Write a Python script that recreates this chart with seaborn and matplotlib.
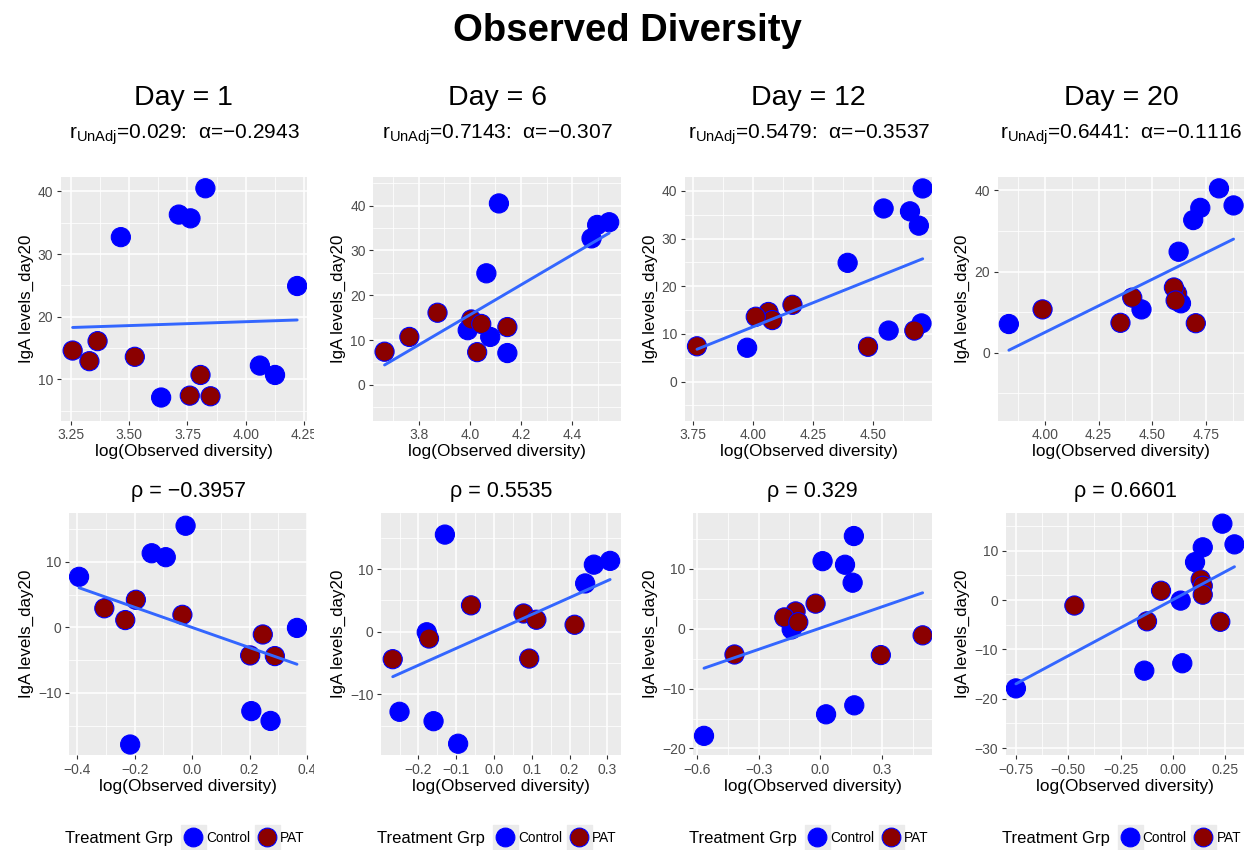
import numpy as np
import pandas as pd
import matplotlib
matplotlib.use("Agg")
import matplotlib.pyplot as plt
import seaborn as sns
from matplotlib.lines import Line2D
from matplotlib.legend_handler import HandlerTuple
from matplotlib.transforms import Bbox, TransformedBbox

# ---------------- data ----------------
groups = ["Control", "PAT"]
col_titles = ["Day = 1", "Day = 6", "Day = 12", "Day = 20"]
r_unadj = ["0.029", "0.7143", "0.5479", "0.6441"]
alpha_vals = ["\u22120.2943", "\u22120.307", "\u22120.3537", "\u22120.1116"]
rho_vals = ["\u22120.3957", "0.5535", "0.329", "0.6601"]

# top row: raw IgA vs log(observed diversity)
iga_control = [40.5, 36.3, 35.7, 32.7, 24.9, 12.2, 10.7, 7.1]
iga_pat = [14.6, 16.1, 12.9, 13.6, 10.7, 7.4, 7.3]

logdiv_control_d1 = [3.827, 3.713, 3.763, 3.464, 4.221, 4.061, 4.126, 3.637]
logdiv_pat_d1 = [3.257, 3.364, 3.329, 3.524, 3.806, 3.760, 3.849]
logdiv_control_d6 = [4.114, 4.545, 4.498, 4.476, 4.065, 3.992, 4.080, 4.147]
logdiv_pat_d6 = [4.006, 3.874, 4.147, 4.045, 3.764, 3.667, 4.029]
logdiv_control_d12 = [4.706, 4.543, 4.653, 4.690, 4.393, 4.701, 4.564, 3.974]
logdiv_pat_d12 = [4.063, 4.163, 4.079, 4.010, 4.671, 3.765, 4.478]
logdiv_control_d20 = [4.811, 4.879, 4.724, 4.691, 4.623, 4.634, 4.450, 3.832]
logdiv_pat_d20 = [4.616, 4.601, 4.609, 4.407, 3.989, 4.352, 4.703]

# bottom row: adjusted values
adj_iga_control = [15.5, 11.3, 10.7, 7.7, -0.1, -12.8, -14.3, -17.9]
adj_iga_pat = [4.2, 2.9, 1.9, 1.1, -1.1, -4.3, -4.4]

adj_div_control_d1 = [-0.023, -0.141, -0.092, -0.394, 0.365, 0.206, 0.273, -0.216]
adj_div_pat_d1 = [-0.196, -0.306, -0.034, -0.233, 0.246, 0.202, 0.288]
adj_div_control_d6 = [-0.130, 0.307, 0.264, 0.241, -0.178, -0.250, -0.160, -0.095]
adj_div_pat_d6 = [-0.061, 0.078, 0.112, 0.213, -0.172, 0.093, -0.268]
adj_div_control_d12 = [0.163, 0.011, 0.120, 0.157, -0.139, 0.165, 0.028, -0.565]
adj_div_pat_d12 = [-0.023, -0.120, -0.175, -0.107, 0.497, -0.417, 0.294]
adj_div_control_d20 = [0.238, 0.296, 0.144, 0.107, 0.038, 0.046, -0.136, -0.751]
adj_div_pat_d20 = [0.134, 0.144, -0.056, 0.144, -0.471, -0.123, 0.228]

top_x_ticks = [[3.25, 3.50, 3.75, 4.00, 4.25], [3.8, 4.0, 4.2, 4.4],
               [3.75, 4.00, 4.25, 4.50], [4.00, 4.25, 4.50, 4.75]]
top_x_labels = [["3.25", "3.50", "3.75", "4.00", "4.25"], ["3.8", "4.0", "4.2", "4.4"],
                ["3.75", "4.00", "4.25", "4.50"], ["4.00", "4.25", "4.50", "4.75"]]
top_y_ticks = [[10, 20, 30, 40], [0, 10, 20, 30, 40], [0, 10, 20, 30, 40], [0, 20, 40]]
bot_x_ticks = [[-0.4, -0.2, 0.0, 0.2, 0.4], [-0.2, -0.1, 0.0, 0.1, 0.2, 0.3],
               [-0.6, -0.3, 0.0, 0.3], [-0.75, -0.50, -0.25, 0.00, 0.25]]
bot_x_labels = [["\u22120.4", "\u22120.2", "0.0", "0.2", "0.4"],
                ["\u22120.2", "\u22120.1", "0.0", "0.1", "0.2", "0.3"],
                ["\u22120.6", "\u22120.3", "0.0", "0.3"],
                ["\u22120.75", "\u22120.50", "\u22120.25", "0.00", "0.25"]]
bot_y_ticks = [[-10, 0, 10], [-10, 0, 10], [-20, -10, 0, 10], [-30, -20, -10, 0, 10]]

top_xlim = [(3.207, 4.262), (3.623, 4.590), (3.715, 4.746), (3.780, 4.929)]
top_ylim = [(3.4, 42.3), (-8.0, 46.4), (-8.2, 42.9), (-16.7, 43.3)]
bot_xlim = [(-0.428, 0.401), (-0.299, 0.335), (-0.617, 0.544), (-0.800, 0.343)]
bot_ylim = [(-19.5, 17.4), (-19.7, 18.9), (-21.1, 19.3), (-31.4, 17.6)]

top_ctrl = [logdiv_control_d1, logdiv_control_d6, logdiv_control_d12, logdiv_control_d20]
top_pat = [logdiv_pat_d1, logdiv_pat_d6, logdiv_pat_d12, logdiv_pat_d20]
bot_ctrl = [adj_div_control_d1, adj_div_control_d6, adj_div_control_d12, adj_div_control_d20]
bot_pat = [adj_div_pat_d1, adj_div_pat_d6, adj_div_pat_d12, adj_div_pat_d20]

# ---------------- style ----------------
sns.set_theme(style="darkgrid", rc={
    "axes.facecolor": "#EBEBEB",
    "grid.color": "white",
    "axes.edgecolor": "#EBEBEB",
    "text.color": "black",
    "axes.labelcolor": "black",
    "xtick.color": "#333333",
    "ytick.color": "#333333",
    "xtick.labelcolor": "#4D4D4D",
    "ytick.labelcolor": "#4D4D4D",
    "xtick.major.size": 3,
    "ytick.major.size": 3,
    "xtick.major.width": 0.8,
    "ytick.major.width": 0.8,
    "xtick.bottom": True,
    "ytick.left": True,
    "xtick.major.pad": 2.5,
    "ytick.major.pad": 2.5,
})
plt.rcParams["font.family"] = ["Liberation Sans", "DejaVu Sans"]
plt.rcParams["mathtext.fontset"] = "custom"
plt.rcParams["mathtext.rm"] = "Liberation Sans"
plt.rcParams["mathtext.it"] = "Liberation Sans:italic"

palette = {"Control": "#0000FF", "PAT": "#8B0000"}
W, H = 1255, 850
fig = plt.figure(figsize=(W / 100, H / 100), dpi=100)


def rect(l, r, t, b):
    return [l / W, 1 - b / H, (r - l) / W, (b - t) / H]


top_rects = [(61, 306.7, 177, 420.7), (373.3, 620.7, 177, 420.7),
             (685, 932.3, 177, 420.7), (997.7, 1244.3, 177, 420.7)]
bot_rects = [(69.3, 307.3, 513.3, 755), (381, 620.7, 513.3, 755),
             (693.3, 932.3, 513.3, 755), (1005.7, 1244.3, 513.3, 755)]


def minors(ticks, lim):
    step = ticks[1] - ticks[0]
    cands = [ticks[0] - step / 2] + [t + step / 2 for t in ticks]
    return [c for c in cands if lim[0] <= c <= lim[1]]


def panel(ax, xs_c, xs_p, ys_c, ys_p, xt, xl, yt, xlim, ylim, col):
    df = pd.DataFrame({
        "x": list(xs_c) + list(xs_p),
        "y": list(ys_c) + list(ys_p),
        "grp": ["Control"] * len(xs_c) + ["PAT"] * len(xs_p),
    })
    sns.scatterplot(data=df, x="x", y="y", hue="grp", palette=palette, s=190,
                    edgecolor="#0000FF", linewidth=0.8, legend=False, ax=ax, zorder=3)
    sns.regplot(data=df, x="x", y="y", scatter=False, ci=None, color="#3366FF",
                line_kws={"lw": 2.1, "zorder": 4}, ax=ax)
    ax.set_xlim(*xlim)
    ax.set_ylim(*ylim)
    ax.set_xticks(xt)
    ax.set_xticklabels(xl)
    ax.set_yticks(yt)
    ax.set_yticklabels([("\u2212" + str(-v)) if v < 0 else str(v) for v in yt])
    ax.set_xticks(minors(xt, xlim), minor=True)
    ax.set_yticks(minors(yt, ylim), minor=True)
    ax.grid(which="major", color="white", lw=1.1)
    ax.grid(which="minor", color="white", lw=0.55)
    ax.tick_params(which="minor", length=0)
    ax.tick_params(which="major", labelsize=10)
    for s in ax.spines.values():
        s.set_visible(False)
    ax.set_xlabel("log(Observed diversity)", fontsize=12.4, color="black", labelpad=1.5)
    ax.set_ylabel("IgA levels_day20", fontsize=12.2, color="black", labelpad=3)
    clip = TransformedBbox(Bbox([[col * 0.25, 0], [(col + 1) * 0.25, 1]]), fig.transFigure)
    for lbl in ax.get_xticklabels():
        lbl.set_clip_box(clip)
        lbl.set_clip_on(True)


for c in range(4):
    axt = fig.add_axes(rect(*top_rects[c]))
    panel(axt, top_ctrl[c], top_pat[c], iga_control, iga_pat,
          top_x_ticks[c], top_x_labels[c], top_y_ticks[c], top_xlim[c], top_ylim[c], c)
    axb = fig.add_axes(rect(*bot_rects[c]))
    panel(axb, bot_ctrl[c], bot_pat[c], adj_iga_control, adj_iga_pat,
          bot_x_ticks[c], bot_x_labels[c], bot_y_ticks[c], bot_xlim[c], bot_ylim[c], c)

    tcx = (top_rects[c][0] + top_rects[c][1]) / 2
    bcx = (bot_rects[c][0] + bot_rects[c][1]) / 2
    fig.text(tcx / W, 1 - 105 / H, col_titles[c], ha="center", va="baseline", fontsize=20.5)
    fig.text(tcx / W, 1 - 138.5 / H,
             r"r$_{\mathregular{UnAdj}}$=" + r_unadj[c] + ":  \u03b1=" + alpha_vals[c],
             ha="center", va="baseline", fontsize=15)
    fig.text(bcx / W, 1 - 491 / H, "\u03c1 = " + rho_vals[c], ha="center", va="center", fontsize=15.5)

    # legend
    x0 = top_rects[c][0] + 4
    fig.text(x0 / W, 1 - 838 / H, "Treatment Grp", ha="left", va="center", fontsize=12)
    handles = []
    for g in groups:
        bg = Line2D([], [], marker="s", markersize=18, color="#EBEBEB", linestyle="")
        pt = Line2D([], [], marker="o", markersize=13.5, markerfacecolor=palette[g],
                    markeredgecolor="#0000FF", markeredgewidth=0.8, linestyle="")
        handles.append((bg, pt))
    fig.legend(handles, groups, handler_map={tuple: HandlerTuple(ndivide=1)},
               loc="center left", bbox_to_anchor=((x0 + 119) / W, 1 - 838 / H),
               ncol=2, frameon=False, fontsize=9.8, handlelength=1.3,
               handletextpad=0.3, columnspacing=0.6, borderaxespad=0, borderpad=0)

fig.text(0.5, 1 - 31 / H, "Observed Diversity", ha="center", va="center",
         fontsize=27.5, fontweight="bold")

fig.savefig("out.png", dpi=100)
